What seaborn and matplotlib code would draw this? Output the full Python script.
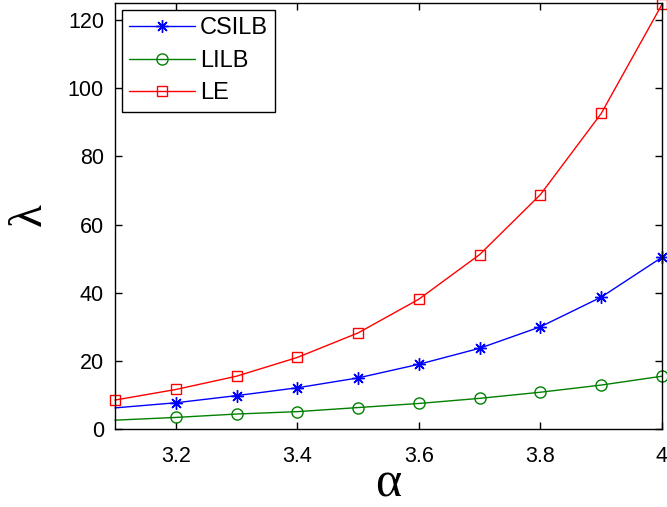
import numpy as np
import pandas as pd
import matplotlib
matplotlib.use('Agg')
import matplotlib.pyplot as plt
import seaborn as sns

# data
alpha = [3.1, 3.2, 3.3, 3.4, 3.5, 3.6, 3.7, 3.8, 3.9, 4.0]
csilb = [6.2, 7.7, 9.8, 12.1, 15.0, 19.0, 23.7, 30.0, 38.7, 50.4]
lilb = [2.6, 3.4, 4.4, 5.1, 6.3, 7.5, 9.0, 10.8, 12.9, 15.5]
le = [8.5, 11.6, 15.5, 21.0, 28.2, 38.1, 51.2, 68.8, 92.6, 124.6]

xticks = [3.2, 3.4, 3.6, 3.8, 4.0]
xticklabels = ['3.2', '3.4', '3.6', '3.8', '4']
yticks = [0, 20, 40, 60, 80, 100, 120]

sns.set_style('ticks')
plt.rcParams['font.family'] = ['Liberation Sans', 'DejaVu Sans']
plt.rcParams['text.color'] = 'black'
plt.rcParams['xtick.color'] = 'black'
plt.rcParams['ytick.color'] = 'black'

fig = plt.figure(figsize=(6.67, 5.07), dpi=100)
ax = fig.add_axes([0.1724, 0.1538, 0.8201, 0.8402])

df = pd.DataFrame({'alpha': alpha, 'CSILB': csilb, 'LILB': lilb, 'LE': le})

series = [
    ('CSILB', '#0000ff', (8, 2, 0), 9, range(1, len(alpha))),
    ('LILB', '#008000', 'o', 8, range(1, len(alpha))),
    ('LE', '#ff0000', 's', 7, range(0, len(alpha))),
]
for name, col, mk, ms, every in series:
    sns.lineplot(data=df, x='alpha', y=name, ax=ax, color=col, lw=1,
                 marker=mk, markersize=ms, markerfacecolor='none',
                 markeredgecolor=col, markeredgewidth=1,
                 markevery=list(every), label=name, clip_on=False)

ax.set_xlim(3.1, 4.0)
ax.set_ylim(0, 125)
ax.set_xticks(xticks)
ax.set_xticklabels(xticklabels)
ax.set_yticks(yticks)
ax.tick_params(direction='in', top=True, right=True, labelsize=15.5,
               length=5, width=1)
ax.tick_params(axis='x', pad=12)
ax.tick_params(axis='y', pad=8)
for s in ax.spines.values():
    s.set_linewidth(1)
    s.set_color('black')
ax.set_xlabel('')
ax.set_ylabel('')

serif = ['Liberation Serif', 'DejaVu Serif']
fig.text(388 / 667, 1 - 484 / 507, 'α', fontsize=36, family=serif,
         ha='center', va='center')
fig.text(29 / 667, 1 - 215 / 507, 'λ', fontsize=34, family=serif,
         ha='center', va='center', rotation=90)

leg = ax.legend(loc='upper left', fontsize=17, frameon=True, fancybox=False,
                edgecolor='black', framealpha=1, borderaxespad=0.3,
                handlelength=2.8, handletextpad=0.2, labelspacing=0.45,
                borderpad=0.3)
leg.get_frame().set_linewidth(1)

fig.savefig('out.png', dpi=100)
